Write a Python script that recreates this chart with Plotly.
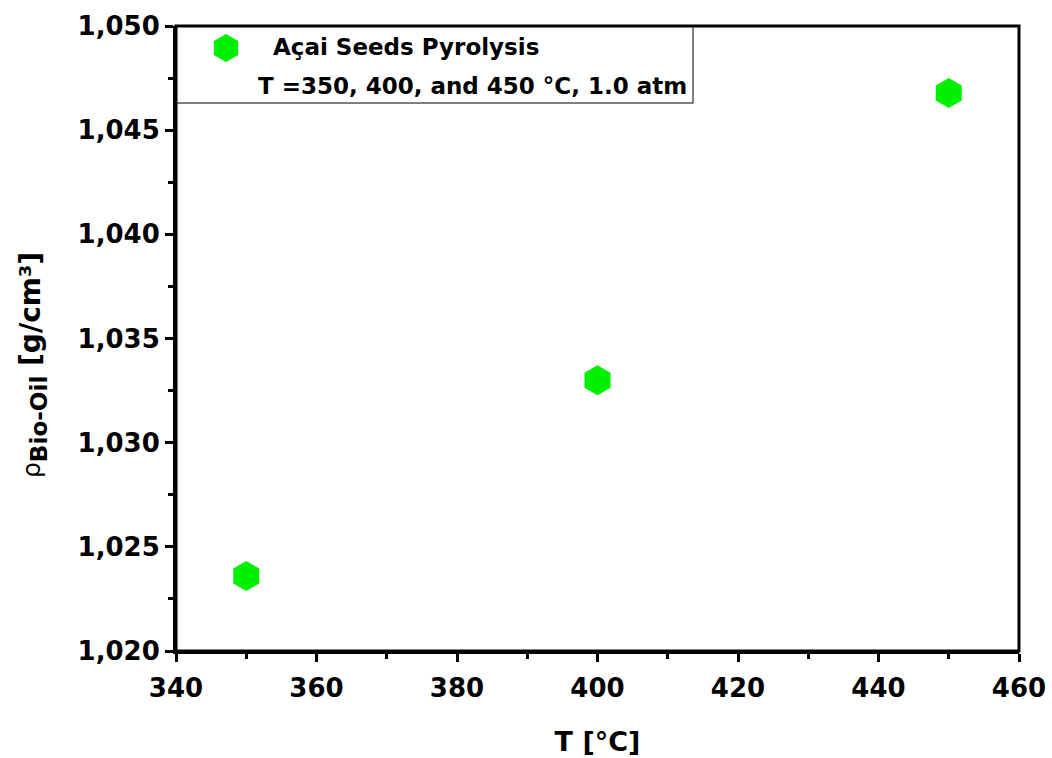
import plotly.graph_objects as go

temperature_c = [350, 400, 450]
density_g_cm3 = [1.0236, 1.0330, 1.04678]
legend_line1 = "Açai Seeds Pyrolysis"
legend_line2 = "T =350, 400, and 450 °C, 1.0 atm"
x_ticks = [340, 360, 380, 400, 420, 440, 460]
y_ticks = [1.020, 1.025, 1.030, 1.035, 1.040, 1.045, 1.050]

FONT = "DejaVu Sans"
GREEN = "#00F000"
W, H = 1052, 758
ML, MR, MT, MB = 176, 33, 26, 107
PW, PH = W - ML - MR, H - MT - MB


def px(x):
    return (x - ML) / PW


def py(y):
    return (H - MB - y) / PH


fig = go.Figure()
fig.add_trace(go.Scatter(
    x=temperature_c, y=density_g_cm3, mode="markers", showlegend=False,
    marker=dict(symbol="hexagon", size=30, color=GREEN, line=dict(width=0)),
))
# legend symbol on a hidden overlay axis in plot-area fractions
fig.add_trace(go.Scatter(
    x=[px(226)], y=[py(48)], xaxis="x2", yaxis="y2", mode="markers",
    showlegend=False, hoverinfo="skip",
    marker=dict(symbol="hexagon", size=28, color=GREEN, line=dict(width=0)),
))

fig.update_layout(
    width=W, height=H,
    margin=dict(l=ML, r=MR, t=MT, b=MB, autoexpand=False),
    paper_bgcolor="white", plot_bgcolor="white",
    separators=",.",
    font=dict(family=FONT, color="black"),
    showlegend=False,
    xaxis=dict(
        range=[340, 460], tickvals=x_ticks, ticks="outside", ticklen=8, tickwidth=3,
        tickcolor="black", automargin=False, ticklabelstandoff=4,
        showline=True, linewidth=3, linecolor="black", mirror=False, showgrid=False,
        zeroline=False,
        tickfont=dict(size=26, family=FONT, weight="bold"),
        minor=dict(dtick=10, ticks="outside", ticklen=5, tickwidth=3, tickcolor="black"),
        title=dict(text="<b>T [°C]</b>", font=dict(size=27, family=FONT), standoff=30),
    ),
    yaxis=dict(
        range=[1.020, 1.050], tickvals=y_ticks, tickformat=".3f", ticks="outside",
        ticklen=8, tickwidth=3, tickcolor="black", automargin=False,
        showline=True, linewidth=3, linecolor="black", mirror=False, showgrid=False,
        zeroline=False,
        tickfont=dict(size=26, family=FONT, weight="bold"),
        minor=dict(dtick=0.0025, ticks="outside", ticklen=5, tickwidth=3, tickcolor="black"),
    ),
    xaxis2=dict(overlaying="x", range=[0, 1], visible=False, fixedrange=True),
    yaxis2=dict(overlaying="y", range=[0, 1], visible=False, fixedrange=True),
    shapes=[
        dict(type="rect", xref="paper", yref="paper", x0=0, x1=px(693),
             y0=py(103), y1=1, line=dict(color="black", width=1),
             fillcolor="rgba(0,0,0,0)", layer="above"),
        dict(type="rect", xref="paper", yref="paper", x0=0, x1=1, y0=0, y1=1,
             line=dict(color="black", width=3), fillcolor="rgba(0,0,0,0)",
             layer="above"),
    ],
    annotations=[
        dict(text="<b>" + legend_line1 + "</b>", xref="paper", yref="paper",
             x=px(271), y=py(47), xanchor="left", yanchor="middle",
             showarrow=False, font=dict(size=23, family=FONT)),
        dict(text="<b>" + legend_line2 + "</b>", xref="paper", yref="paper",
             x=px(256), y=py(86), xanchor="left", yanchor="middle",
             showarrow=False, font=dict(size=23, family=FONT)),
        dict(text="<span style='font-size:25px'>ρ</span><b><sub>Bio-Oil</sub></b>"
                  "<b><span style='font-size:28px'> [g/cm³]</span></b>",
             xref="paper", yref="paper", x=px(33), y=py(365),
             xanchor="center", yanchor="middle", textangle=-90,
             showarrow=False, font=dict(size=33, family=FONT)),
    ],
)

fig.write_html("out.html")
